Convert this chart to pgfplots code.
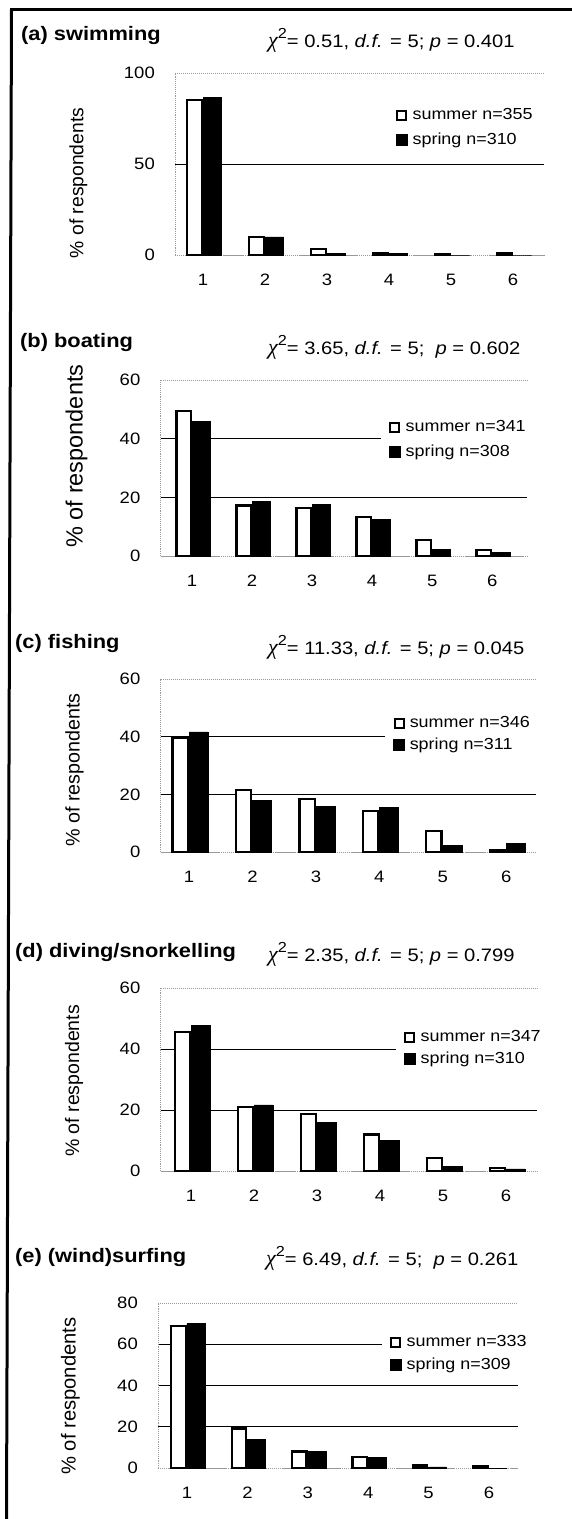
\documentclass[border=0pt]{standalone}
\usepackage{pgfplots}
\pgfplotsset{compat=1.18}
\usepackage{fontspec}
\setmainfont[FakeStretch=1.12]{Liberation Sans}
\newfontfamily\ylfont{Liberation Sans}
\newfontfamily\chifont{Liberation Serif}
\newcommand{\ttl}[1]{{\fontsize{19.5}{21}\selectfont\bfseries #1}}
\newcommand{\stat}[3]{{\fontsize{18}{20}\selectfont{\chifont\itshape\fontsize{22}{22}\selectfont χ}\raisebox{8.5pt}{\fontsize{14.5}{15}\selectfont 2}= #1, \textit{d.f.} = 5;#3 \textit{p} = #2}}

\pgfplotsset{
  panel/.style={
    scale only axis, anchor=south west,
    ybar, enlargelimits=false, ymin=0,
    axis x line*=bottom, axis y line*=left,
    axis line style={gray!80, densely dotted, line width=0.9pt},
    xtick={1,...,6},
    tick style={draw=none},
    ymajorgrids, major grid style={black, line width=1pt},
    extra y tick style={major grid style={gray!80, densely dotted, line width=0.9pt}},
    tick label style={font=\fontsize{16.5}{18}\selectfont},
    /pgf/number format/assume math mode=true,
    xticklabel style={anchor=base, yshift=-26pt},
    yticklabel style={anchor=east, inner sep=0pt, xshift=-20pt},
    ylabel={\% of respondents},
    legend cell align=left,
    legend style={draw=none, fill=white, inner xsep=8pt, inner ysep=1pt, anchor=west,
      font=\fontsize{16}{18}\selectfont, nodes={inner sep=0pt}, column sep=5pt},
  },
  summer/.style={fill=white, draw=black, line width=2.2pt, bar width=0.24, bar shift=-0.14,
    legend image code/.code={\draw[fill=white, draw=black, line width=2pt] (1pt,-4.5pt) rectangle (10pt,4.5pt);}},
  spring/.style={fill=black, draw=black, line width=0.5pt, bar width=0.3, bar shift=0.15,
    legend image code/.code={\fill[black] (0pt,-5.5pt) rectangle (11pt,5.5pt);}},
}

\begin{document}
\begin{tikzpicture}
\useasboundingbox (0pt,0pt) rectangle (572pt,-1519pt);

% ---------------- (a) swimming
\begin{axis}[panel, at={(175pt,-255pt)}, width=369pt, height=182pt,
  xmin=0.548, xmax=6.5, ymax=100, ytick={50}, extra y ticks={0,100},
  ylabel style={font=\ylfont\fontsize{19.3}{20}\selectfont, at={(axis description cs:-0.2615,0.3956)}, anchor=center},
  legend style={at={(axis description cs:0.577,0.7005)}, row sep=11.8pt}]
\addplot[summer] coordinates {(1,85) (2,10) (3,3.5) (4,1.3) (5,0.6) (6,0.8)};
\addplot[spring] coordinates {(1,86.6) (2,10) (3,0.8) (4,0.7) (5,0) (6,0)};
\legend{summer n=355, spring n=310}
\end{axis}
\node[anchor=base west, inner sep=0pt] at (21pt,-40pt) {\ttl{(a) swimming}};
\node[anchor=base west, inner sep=0pt] at (268pt,-47pt) {\stat{0.51}{0.401}{}};

% ---------------- (b) boating
\begin{axis}[panel, at={(160.5pt,-556pt)}, width=366.5pt, height=176pt,
  xmin=0.475, xmax=6.58, ymax=60, ytick={20,40}, extra y ticks={0,60},
  ylabel style={font=\ylfont\fontsize{23.5}{24}\selectfont, at={(axis description cs:-0.229,0.568)}, anchor=center},
  legend style={at={(axis description cs:0.6016,0.662)}, row sep=11.8pt}]
\addplot[summer] coordinates {(1,49.5) (2,17.2) (3,16.4) (4,13.4) (5,5.4) (6,2.0)};
\addplot[spring] coordinates {(1,45.8) (2,18.7) (3,17.6) (4,12.6) (5,2.3) (6,1.2)};
\legend{summer n=341, spring n=308}
\end{axis}
\node[anchor=base west, inner sep=0pt] at (20pt,-347pt) {\ttl{(b) boating}};
\node[anchor=base west, inner sep=0pt] at (268pt,-354pt) {\stat{3.65}{0.602}{\ }};

% ---------------- (c) fishing
\begin{axis}[panel, at={(160.5pt,-852pt)}, width=375.5pt, height=173pt,
  xmin=0.55, xmax=6.47, ymax=60, ytick={20,40}, extra y ticks={0,60},
  ylabel style={font=\ylfont\fontsize{19.7}{20}\selectfont, at={(axis description cs:-0.229,0.474)}, anchor=center},
  legend style={at={(axis description cs:0.598,0.682)}, row sep=8.8pt}]
\addplot[summer] coordinates {(1,39.5) (2,21.5) (3,18.3) (4,14.3) (5,7.3) (6,0.7)};
\addplot[spring] coordinates {(1,41.7) (2,17.9) (3,15.7) (4,15.5) (5,2.2) (6,2.9)};
\legend{summer n=346, spring n=311}
\end{axis}
\node[anchor=base west, inner sep=0pt] at (15pt,-648pt) {\ttl{(c) fishing}};
\node[anchor=base west, inner sep=0pt] at (268pt,-654pt) {\stat{11.33}{0.045}{}};

% ---------------- (d) diving/snorkelling
\begin{axis}[panel, at={(160.5pt,-1171pt)}, width=376.5pt, height=183pt,
  xmin=0.516, xmax=6.49, ymax=60, ytick={20,40}, extra y ticks={0,60},
  ylabel style={font=\ylfont\fontsize{19.5}{20}\selectfont, at={(axis description cs:-0.2297,0.492)}, anchor=center},
  legend style={at={(axis description cs:0.6255,0.672)}, row sep=8.8pt}]
\addplot[summer] coordinates {(1,45.5) (2,21.0) (3,18.6) (4,12.0) (5,4.2) (6,1.0)};
\addplot[spring] coordinates {(1,47.8) (2,21.7) (3,15.9) (4,10.0) (5,1.4) (6,0.7)};
\legend{summer n=347, spring n=310}
\end{axis}
\node[anchor=base west, inner sep=0pt] at (15pt,-957pt) {\ttl{(d) diving/snorkelling}};
\node[anchor=base west, inner sep=0pt] at (268pt,-961pt) {\stat{2.35}{0.799}{}};

% ---------------- (e) (wind)surfing
\begin{axis}[panel, at={(158pt,-1468pt)}, width=360pt, height=165pt,
  xmin=0.52, xmax=6.48, ymax=80, ytick={20,40,60}, extra y ticks={0,80},
  ylabel style={font=\ylfont\fontsize{20.2}{21}\selectfont, at={(axis description cs:-0.243,0.436)}, anchor=center},
  legend style={at={(axis description cs:0.622,0.694)}, row sep=9.8pt}]
\addplot[summer] coordinates {(1,68.9) (2,19.2) (3,8.0) (4,5.2) (5,1.2) (6,1.0)};
\addplot[spring] coordinates {(1,70.0) (2,13.9) (3,8.1) (4,5.1) (5,0.6) (6,0)};
\legend{summer n=333, spring n=309}
\end{axis}
\node[anchor=base west, inner sep=0pt] at (15pt,-1262pt) {\ttl{(e) (wind)surfing}};
\node[anchor=base west, inner sep=0pt] at (266pt,-1265pt) {\stat{6.49}{0.261}{\ }};

% frame
\draw[line width=3pt] (11.5pt,-9.5pt) -- (6.5pt,-1519pt);
\draw[line width=3pt] (10pt,-9.5pt) -- (572pt,-9.5pt);
\end{tikzpicture}
\end{document}
